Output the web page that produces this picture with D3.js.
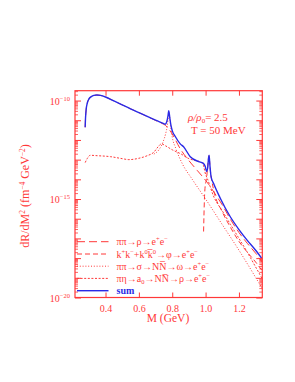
<!DOCTYPE html>
<html>
<head>
<meta charset="utf-8">
<script src="https://cdn.jsdelivr.net/npm/d3@7/dist/d3.min.js"></script>
<style>
  body { margin: 0; background: #fff; }
  text { font-family: "Liberation Serif", "DejaVu Serif", serif; }
</style>
</head>
<body>
<div id="vis"></div>
<script>
// values are log10(dR/dM^2), M in GeV
const sumM   = [0.278, 0.28, 0.284, 0.29, 0.3, 0.315, 0.33, 0.348, 0.37, 0.4, 0.45, 0.5, 0.55, 0.6, 0.65, 0.7, 0.735, 0.758, 0.768, 0.775, 0.779, 0.785, 0.792, 0.799, 0.82, 0.848, 0.868, 0.908, 0.958, 0.985, 0.998, 1.006, 1.012, 1.018, 1.021, 1.026, 1.033, 1.05, 1.088, 1.148, 1.2, 1.25, 1.3, 1.34];
const sumLog = [-11.36, -10.9, -10.45, -10.15, -9.93, -9.8, -9.74, -9.72, -9.74, -9.82, -10.02, -10.22, -10.42, -10.61, -10.8, -10.99, -11.12, -11.2, -11.05, -10.75, -10.52, -10.85, -11.25, -11.5, -11.85, -12.2, -12.35, -12.85, -13.1, -13.18, -13.35, -13.6, -13.45, -12.9, -12.78, -13.3, -13.87, -14.25, -14.96, -15.9, -16.55, -17.1, -17.6, -18.05];

const rhoM   = [0.278, 0.28, 0.284, 0.29, 0.3, 0.315, 0.33, 0.348, 0.37, 0.4, 0.45, 0.5, 0.55, 0.6, 0.65, 0.7, 0.735, 0.758, 0.78, 0.8, 0.848, 0.9, 0.95, 1.0, 1.018, 1.05, 1.1, 1.15, 1.2, 1.25, 1.3, 1.34];
const rhoLog = [-11.36, -10.9, -10.45, -10.15, -9.93, -9.8, -9.74, -9.72, -9.74, -9.82, -10.02, -10.22, -10.42, -10.61, -10.81, -11.01, -11.15, -11.25, -11.45, -11.7, -12.45, -13.05, -13.55, -14.05, -14.25, -14.65, -15.3, -16.05, -16.7, -17.25, -17.75, -18.2];

const phiM   = [0.988, 0.993, 0.998, 1.005, 1.012, 1.017, 1.02, 1.023, 1.028, 1.035, 1.05, 1.1, 1.15, 1.2, 1.25, 1.3, 1.34];
const phiLog = [-16.65, -15.0, -14.3, -14.0, -13.4, -12.95, -12.8, -13.0, -13.5, -13.95, -14.6, -15.65, -16.45, -17.15, -17.7, -18.2, -18.65];

const sigM   = [0.69, 0.72, 0.745, 0.76, 0.77, 0.776, 0.781, 0.786, 0.792, 0.8, 0.82, 0.86, 0.92, 1.0, 1.1, 1.2, 1.34];
const sigLog = [-12.72, -12.5, -12.1, -11.7, -11.3, -10.9, -10.6, -10.95, -11.4, -11.85, -12.4, -13.2, -14.0, -15.0, -16.3, -17.6, -19.55];

const a0M    = [0.278, 0.29, 0.308, 0.35, 0.43, 0.5, 0.54, 0.6, 0.65, 0.69, 0.715, 0.735, 0.76, 0.8, 0.85, 0.9, 0.94, 0.965, 0.985, 1.0, 1.01, 1.05, 1.1, 1.15, 1.2, 1.25, 1.3, 1.34];
const a0Log  = [-13.15, -12.95, -12.78, -12.8, -12.85, -12.95, -13.0, -12.93, -12.8, -12.62, -12.35, -12.2, -12.3, -12.5, -12.7, -12.95, -13.05, -13.1, -13.25, -13.75, -13.95, -14.9, -15.6, -16.3, -17.0, -17.7, -18.45, -19.05];

const xTicks = [0.4, 0.6, 0.8, 1.0, 1.2];
const yLabelExps = [-10, -15, -20];

const red = '#ff3838';
const blue = '#2a2ae6';

const svg = d3.select('#vis').append('svg')
  .attr('width', 295)
  .attr('height', 382);

const x = d3.scaleLinear().domain([0.217, 1.34]).range([75, 262.3]);
const y = d3.scaleLog().domain([1e-20, Math.pow(10, -9.5)]).range([297.5, 90.7]);

// clip for curves
svg.append('clipPath').attr('id', 'clip')
  .append('rect').attr('x', 75).attr('y', 90.7).attr('width', 187.3).attr('height', 206.8);

const line = d3.line()
  .x(d => x(d[0]))
  .y(d => y(Math.pow(10, d[1])))
  .curve(d3.curveMonotoneX);

function zip(ms, ls) {
  return ms.map((m, i) => [m, ls[i]]);
}

const curves = [
  { data: zip(a0M, a0Log), color: red, dash: '2,1.6', width: 1 },
  { data: zip(sigM, sigLog), color: red, dash: '1,1.8', width: 1 },
  { data: zip(phiM, phiLog), color: red, dash: '5,3', width: 1 },
  { data: zip(rhoM, rhoLog), color: red, dash: '8,4', width: 1 },
  { data: zip(sumM, sumLog), color: blue, dash: null, width: 1.4 }
];

const g = svg.append('g').attr('clip-path', 'url(#clip)');
curves.forEach(c => {
  g.append('path')
    .datum(c.data)
    .attr('d', line)
    .attr('fill', 'none')
    .attr('stroke', c.color)
    .attr('stroke-width', c.width)
    .attr('stroke-dasharray', c.dash);
});

// frame
svg.append('rect')
  .attr('x', 75).attr('y', 90.7).attr('width', 187.3).attr('height', 206.8)
  .attr('fill', 'none').attr('stroke', red).attr('stroke-width', 1.2);

// x ticks, inward on bottom and top
const xAxisB = d3.axisBottom(x).tickValues(xTicks).tickSizeInner(-5).tickSizeOuter(0).tickFormat(d3.format('.1f'));
const gxb = svg.append('g').attr('transform', 'translate(0,297.5)').call(xAxisB);
gxb.select('.domain').remove();
gxb.selectAll('line').attr('stroke', red);
gxb.selectAll('text').attr('fill', red).attr('font-size', 10).attr('dy', '1.1em')
  .attr('font-family', '"DejaVu Sans", sans-serif');
const xAxisT = d3.axisTop(x).tickValues(xTicks).tickSizeInner(-5).tickSizeOuter(0).tickFormat('');
const gxt = svg.append('g').attr('transform', 'translate(0,90.7)').call(xAxisT);
gxt.select('.domain').remove();
gxt.selectAll('line').attr('stroke', red);

// y ticks: decades and minors
const yMinor = [];
const yMajor = [];
for (let e = -20; e <= -10; e++) {
  yMajor.push(Math.pow(10, e));
  for (let k = 2; k <= 9; k++) {
    const v = k * Math.pow(10, e);
    if (v <= Math.pow(10, -9.5)) yMinor.push(v);
  }
}
[[d3.axisLeft, 75], [d3.axisRight, 262.3]].forEach(([axisFn, xPos]) => {
  const gMaj = svg.append('g').attr('transform', 'translate(' + xPos + ',0)')
    .call(axisFn(y).tickValues(yMajor).tickSizeInner(-6).tickSizeOuter(0).tickFormat(''));
  gMaj.select('.domain').remove();
  gMaj.selectAll('line').attr('stroke', red);
  const gMin = svg.append('g').attr('transform', 'translate(' + xPos + ',0)')
    .call(axisFn(y).tickValues(yMinor).tickSizeInner(-3).tickSizeOuter(0).tickFormat(''));
  gMin.select('.domain').remove();
  gMin.selectAll('line').attr('stroke', red).attr('stroke-width', 0.8);
});

// y tick labels 10^e
yLabelExps.forEach(e => {
  const t = svg.append('text')
    .attr('x', 70).attr('y', y(Math.pow(10, e)) + 4)
    .attr('text-anchor', 'end')
    .attr('fill', red)
    .attr('font-size', 10)
    .attr('font-family', '"DejaVu Sans", sans-serif');
  t.append('tspan').text('10');
  t.append('tspan').attr('dy', -4).attr('font-size', 6.5).text('\u2212' + (-e));
});

// axis titles
svg.append('text')
  .attr('x', 168).attr('y', 322)
  .attr('text-anchor', 'middle')
  .attr('fill', red).attr('font-size', 11.5)
  .text('M  (GeV)');

const yt = svg.append('text')
  .attr('transform', 'translate(29,196) rotate(-90)')
  .attr('text-anchor', 'middle')
  .attr('fill', red).attr('font-size', 12);
yt.append('tspan').text('dR/dM');
yt.append('tspan').attr('dy', -4).attr('font-size', 7.5).text('2');
yt.append('tspan').attr('dy', 4).text(' (fm');
yt.append('tspan').attr('dy', -4).attr('font-size', 7.5).text('\u22124');
yt.append('tspan').attr('dy', 4).text(' GeV');
yt.append('tspan').attr('dy', -4).attr('font-size', 7.5).text('\u22122');
yt.append('tspan').attr('dy', 4).text(')');

// annotation
const ann = svg.append('text').attr('x', 188).attr('y', 121).attr('fill', red).attr('font-size', 11);
ann.append('tspan').attr('font-style', 'italic').text('\u03c1/\u03c1');
ann.append('tspan').attr('dy', 2).attr('font-size', 7).text('0');
ann.append('tspan').attr('dy', -2).text('= 2.5');
svg.append('text').attr('x', 191).attr('y', 134).attr('fill', red).attr('font-size', 11)
  .attr('xml:space', 'preserve').text('T = 50 MeV');

// legend
const legendRows = [
  { parts: [['\u03c0\u03c0\u2192\u03c1\u2192e', 0], ['+', -1], ['e', 0], ['\u2212', -1]], color: red, dash: '8,4', width: 1 },
  { parts: [['k', 0], ['+', -1], ['k', 0], ['\u2212', -1], ['+k', 0], ['0', -1], ['k\u0305', 0], ['0', -1], ['\u2192\u03c6\u2192e', 0], ['+', -1], ['e', 0], ['\u2212', -1]], color: red, dash: '5,3', width: 1 },
  { parts: [['\u03c0\u03c0\u2192\u03c3\u2192NN\u0305\u2192\u03c9\u2192e', 0], ['+', -1], ['e', 0], ['\u2212', -1]], color: red, dash: '1,1.8', width: 1 },
  { parts: [['\u03c0\u03b7\u2192a', 0], ['0', 1], ['\u2192NN\u0305\u2192\u03c1\u2192e', 0], ['+', -1], ['e', 0], ['\u2212', -1]], color: red, dash: '2,1.6', width: 1 },
  { parts: [['sum', 0]], color: blue, dash: null, width: 1.4, bold: true }
];
const legendY = [241.7, 254, 266.2, 278.4, 290.7];
legendRows.forEach((row, i) => {
  svg.append('line')
    .attr('x1', 77).attr('x2', 108.5)
    .attr('y1', legendY[i]).attr('y2', legendY[i])
    .attr('stroke', row.color).attr('stroke-width', row.width)
    .attr('stroke-dasharray', row.dash);
  const t = svg.append('text')
    .attr('x', 116.5).attr('y', legendY[i] + 3.5)
    .attr('fill', row.color).attr('font-size', 10)
    .attr('font-weight', row.bold ? 'bold' : null);
  let shift = 0;
  row.parts.forEach(([s, lvl]) => {
    const target = lvl === -1 ? -4 : (lvl === 1 ? 2.5 : 0);
    t.append('tspan')
      .attr('dy', target - shift)
      .attr('font-size', lvl === 0 ? 10 : 6.5)
      .text(s);
    shift = target;
  });
});
</script>
</body>
</html>
